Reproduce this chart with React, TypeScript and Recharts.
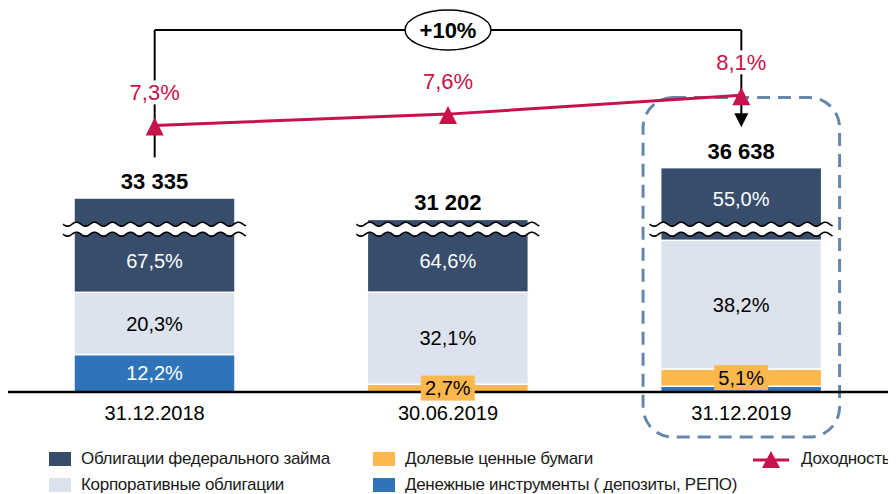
import {
  ComposedChart,
  Bar,
  Line,
  XAxis,
  YAxis,
  LabelList,
  ReferenceLine,
  ReferenceDot,
  ReferenceArea,
} from 'recharts'

// ---------- data ----------
const categories = ['31.12.2018', '30.06.2019', '31.12.2019']
const totals = [33335, 31202, 36638]
const ofzShare = [67.5, 64.6, 55.0]
const corpShare = [20.3, 32.1, 38.2]
const equityShare = [0, 2.7, 5.1]
const cashShare = [12.2, 0, 1.7]
const yieldPct = [7.3, 7.6, 8.1]
const growthLabel = '+10%'

const seriesNames = {
  ofz: 'Облигации федерального займа',
  equity: 'Долевые ценные бумаги',
  yield: 'Доходность',
  corp: 'Корпоративные облигации',
  cash: 'Денежные инструменты ( депозиты, РЕПО)',
}

// broken value axis: part of the OFZ column is cut out
const AXIS_CUT = 12250
const BREAK_AT = 17700
const AMOUNT_MAX = 40000
const YIELD_DOMAIN: [number, number] = [0.2, 10]

// annotation anchors (yield axis units)
const BRACKET_TOP = 9.84
const DROP = 0.85
// highlight frame (value axis units)
const FRAME_TOP = 32000
const FRAME_BOTTOM = -4900

// ---------- style ----------
const NAVY = '#384d6b'
const PALE = '#dde3ee'
const ORANGE = '#fdb84d'
const BLUE = '#2f73b9'
const CRIMSON = '#c8124a'
const FRAME = '#6787a8'
const FONT = '"Liberation Sans", Arial, sans-serif'

const fmtPct = (v: number) => `${v.toFixed(1).replace('.', ',')}%`
const fmtTotal = (v: number) => String(v).replace(/\B(?=(\d{3})+(?!\d))/g, ' ')

const chartData = categories.map((date, i) => {
  const part = (s: number) => (totals[i] * s) / 100
  const cash = part(cashShare[i])
  const equity = part(equityShare[i])
  const corp = part(corpShare[i])
  return {
    date,
    total: totals[i],
    cash,
    equity,
    corp,
    ofz: part(ofzShare[i]) - AXIS_CUT,
    below: cash + equity + corp,
    cashShare: cashShare[i],
    equityShare: equityShare[i],
    corpShare: corpShare[i],
    ofzShare: ofzShare[i],
    yield: yieldPct[i],
  }
})

// ---------- pieces ----------
function AxisBreak({ x0, x1, y }: { x0: number; x1: number; y: number }) {
  const up: string[] = []
  const down: string[] = []
  for (let x = x0; x <= x1; x += 1) {
    const s = 2 * Math.sin(((x - x0) / 18) * Math.PI * 2)
    up.push(`${x},${(y - 5 + s).toFixed(2)}`)
    down.push(`${x},${(y + 5 + s).toFixed(2)}`)
  }
  const band = [...up, ...down.slice().reverse()].join(' ')
  return (
    <g>
      <polygon points={band} fill="#fff" />
      <polyline points={up.join(' ')} fill="none" stroke="#000" strokeWidth={1.6} />
      <polyline points={down.join(' ')} fill="none" stroke="#000" strokeWidth={1.6} />
    </g>
  )
}

function OfzShape(props: any) {
  const { x, y, width, height, payload } = props
  if (!height) return null
  const bottom = y + height
  const perUnit = height / payload.ofz
  const breakY = bottom - (BREAK_AT - payload.below) * perUnit
  const upper = breakY - y
  const lower = bottom - breakY
  const labelY = lower >= upper ? (breakY + bottom) / 2 : (y + breakY) / 2
  const cx = x + width / 2
  return (
    <g>
      <rect x={x} y={y} width={width} height={height} fill={NAVY} stroke="#fff" strokeWidth={1.5} />
      <AxisBreak x0={x - 11} x1={x + width + 11} y={breakY} />
      <text x={cx} y={labelY + 7.2} textAnchor="middle" fill="#fff" fontSize={20} fontFamily={FONT}>
        {fmtPct(payload.ofzShare)}
      </text>
      <text x={cx} y={y - 9} textAnchor="middle" fill="#000" fontSize={22} fontWeight="bold" fontFamily={FONT}>
        {fmtTotal(payload.total)}
      </text>
    </g>
  )
}

function centerLabel(color: string, minValue: number) {
  return (props: any) => {
    const { x, y, width, height, value } = props
    if (!value || value < minValue) return null
    return (
      <text
        x={x + width / 2}
        y={y + height / 2 + 7.2}
        textAnchor="middle"
        fill={color}
        fontSize={20}
        fontFamily={FONT}
      >
        {fmtPct(value)}
      </text>
    )
  }
}

function BoxedLabel(props: any) {
  const { x, y, width, height, value } = props
  if (!value) return null
  const cx = x + width / 2
  const cy = y + height / 2
  return (
    <g>
      <rect x={cx - 27} y={cy - 12.5} width={54} height={25} fill={ORANGE} />
      <text x={cx} y={cy + 7.2} textAnchor="middle" fill="#000" fontSize={20} fontFamily={FONT}>
        {fmtPct(value)}
      </text>
    </g>
  )
}

function TriangleDot(props: any) {
  const { cx, cy } = props
  if (cx == null || cy == null) return null
  return <polygon points={`${cx},${cy - 8} ${cx - 9},${cy + 10} ${cx + 9},${cy + 10}`} fill={CRIMSON} />
}

function YieldLabel(props: any) {
  const { x, y, value } = props
  const cy = y - 33
  return (
    <g>
      <rect x={x - 28} y={cy - 12} width={56} height={24} fill="#fff" />
      <text x={x} y={cy + 7.9} textAnchor="middle" fill={CRIMSON} fontSize={22} fontFamily={FONT}>
        {fmtPct(value)}
      </text>
    </g>
  )
}

function ArrowLine(props: any) {
  const { x1, y1, x2, y2 } = props
  return (
    <g>
      <line x1={x1} y1={y1} x2={x2} y2={y2 - 13} stroke="#000" strokeWidth={2} />
      <polygon points={`${x2 - 7},${y2 - 14} ${x2 + 7},${y2 - 14} ${x2},${y2}`} fill="#000" />
    </g>
  )
}

function GrowthBadge(props: any) {
  const { cx, cy } = props
  return (
    <g>
      <ellipse cx={cx} cy={cy} rx={43} ry={20} fill="#fff" stroke="#000" strokeWidth={1.5} />
      <text x={cx} y={cy + 7.9} textAnchor="middle" fill="#000" fontSize={22} fontWeight="bold" fontFamily={FONT}>
        {growthLabel}
      </text>
    </g>
  )
}

function DashedFrame(props: any) {
  const { x, y, width, height } = props
  const inset = width * 0.165
  return (
    <rect
      x={x + inset}
      y={y}
      width={width - inset * 2}
      height={height}
      rx={30}
      ry={30}
      fill="none"
      stroke={FRAME}
      strokeWidth={3}
      strokeDasharray="13 8"
    />
  )
}

function DateTick(props: any) {
  const { x, y, payload } = props
  return (
    <text x={x} y={y + 20} textAnchor="middle" fill="#000" fontSize={20} fontFamily={FONT}>
      {payload.value}
    </text>
  )
}

// ---------- legend ----------
const legendItems = [
  { name: seriesNames.ofz, color: NAVY, kind: 'box', left: 41, row: 0 },
  { name: seriesNames.equity, color: ORANGE, kind: 'box', left: 365, row: 0 },
  { name: seriesNames.yield, color: CRIMSON, kind: 'yield', left: 745, row: 0 },
  { name: seriesNames.corp, color: PALE, kind: 'box', left: 41, row: 1 },
  { name: seriesNames.cash, color: BLUE, kind: 'box', left: 365, row: 1 },
]

function ChartLegend() {
  return (
    <>
      {legendItems.map((item) => (
        <div
          key={item.name}
          style={{
            position: 'absolute',
            left: item.left,
            top: 451 + item.row * 26 - 10,
            height: 20,
            width: 'max-content',
            display: 'flex',
            alignItems: 'center',
            whiteSpace: 'nowrap',
            fontFamily: FONT,
            fontSize: 17,
            letterSpacing: '-0.3px',
            color: '#1a1a1a',
          }}
        >
          {item.kind === 'box' ? (
            <span style={{ width: 22, height: 14, background: item.color, marginRight: 10, flexShrink: 0 }} />
          ) : (
            <svg width={36} height={20} style={{ marginRight: 12, flexShrink: 0 }}>
              <line x1={0} y1={11} x2={36} y2={11} stroke={item.color} strokeWidth={3} />
              <polygon points="18,2 9,19 27,19" fill={item.color} />
            </svg>
          )}
          <span style={{ flexShrink: 0 }}>{item.name}</span>
        </div>
      ))}
    </>
  )
}

// ---------- chart ----------
export default function App() {
  return (
    <div style={{ position: 'relative', width: 888, height: 486 }}>
      <ComposedChart
        width={880}
        height={486}
        data={chartData}
        margin={{ top: 16, right: 0, bottom: 0, left: 0 }}
        barCategoryGap={0}
      >
        <XAxis
          dataKey="date"
          height={102}
          interval={0}
          tickLine={false}
          axisLine={{ stroke: '#000', strokeWidth: 2.5 }}
          tick={<DateTick />}
        />
        <YAxis yAxisId="amt" hide domain={[0, AMOUNT_MAX]} />
        <YAxis yAxisId="yield" hide orientation="right" domain={YIELD_DOMAIN} />

        <ReferenceArea
          yAxisId="amt"
          x1={categories[2]}
          x2={categories[2]}
          y1={FRAME_BOTTOM}
          y2={FRAME_TOP}
          ifOverflow="visible"
          shape={<DashedFrame />}
        />

        <Bar yAxisId="amt" dataKey="cash" stackId="a" fill={BLUE} stroke="#fff" strokeWidth={1.5} barSize={161} isAnimationActive={false}>
          <LabelList dataKey="cashShare" content={centerLabel('#fff', 5)} />
        </Bar>
        <Bar yAxisId="amt" dataKey="equity" stackId="a" fill={ORANGE} stroke="#fff" strokeWidth={1.5} barSize={161} isAnimationActive={false}>
          <LabelList dataKey="equityShare" content={<BoxedLabel />} />
        </Bar>
        <Bar yAxisId="amt" dataKey="corp" stackId="a" fill={PALE} stroke="#fff" strokeWidth={1.5} barSize={161} isAnimationActive={false}>
          <LabelList dataKey="corpShare" content={centerLabel('#000', 0)} />
        </Bar>
        <Bar yAxisId="amt" dataKey="ofz" stackId="a" fill={NAVY} barSize={161} shape={<OfzShape />} isAnimationActive={false} />

        <Line
          yAxisId="yield"
          dataKey="yield"
          stroke={CRIMSON}
          strokeWidth={3}
          dot={<TriangleDot />}
          activeDot={false}
          label={<YieldLabel />}
          isAnimationActive={false}
        />

        <ReferenceLine
          yAxisId="yield"
          segment={[
            { x: categories[0], y: BRACKET_TOP },
            { x: categories[2], y: BRACKET_TOP },
          ]}
          stroke="#000"
          strokeWidth={2}
        />
        <ReferenceLine
          yAxisId="yield"
          segment={[
            { x: categories[0], y: BRACKET_TOP },
            { x: categories[0], y: yieldPct[0] - DROP },
          ]}
          stroke="#000"
          strokeWidth={2}
        />
        <ReferenceLine
          yAxisId="yield"
          segment={[
            { x: categories[2], y: BRACKET_TOP },
            { x: categories[2], y: yieldPct[2] - DROP },
          ]}
          shape={<ArrowLine />}
        />
        <ReferenceDot
          yAxisId="yield"
          x={categories[1]}
          y={BRACKET_TOP}
          r={1}
          shape={<GrowthBadge />}
        />
      </ComposedChart>
      <ChartLegend />
    </div>
  )
}
